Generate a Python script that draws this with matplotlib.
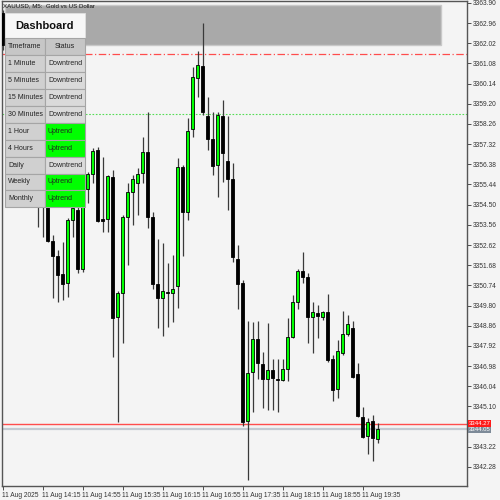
import matplotlib
matplotlib.use("Agg")
import matplotlib.pyplot as plt
from matplotlib.patches import Rectangle
import matplotlib.transforms as mtransforms

# ---------------- data ----------------
symbol_title = "XAUUSD, M5:  Gold vs US Dollar"

opens = [3363.43, 3361.94, 3359.94, 3360.50, 3358.45, 3356.96, 3357.70, 3355.75, 3354.72, 3354.95,
         3352.82, 3352.12, 3351.27, 3350.84, 3353.79, 3354.25, 3351.49, 3355.22, 3355.93, 3357.05,
         3353.82, 3353.82, 3355.78, 3349.25, 3350.37, 3353.94, 3355.11, 3355.50, 3355.99, 3356.94,
         3353.94, 3350.79, 3350.14, 3350.40, 3350.37, 3350.73, 3356.24, 3354.17, 3358.01, 3360.39,
         3360.98, 3358.63, 3357.55, 3356.35, 3358.63, 3356.55, 3355.69, 3351.96, 3350.84, 3344.44,
         3346.69, 3348.23, 3347.08, 3346.38, 3346.80, 3346.38, 3346.33, 3346.83, 3348.32, 3349.95,
         3351.43, 3351.15, 3349.25, 3349.47, 3349.25, 3349.49, 3347.30, 3345.90, 3347.60, 3348.48,
         3348.76, 3346.60, 3344.62, 3343.72, 3344.42, 3343.57]
highs = [3363.57, 3362.27, 3360.78, 3360.96, 3359.01, 3358.08, 3358.22, 3356.35, 3355.42, 3355.42,
         3353.09, 3352.39, 3352.78, 3353.88, 3354.72, 3354.49, 3355.42, 3356.03, 3357.14, 3357.19,
         3356.74, 3355.89, 3356.12, 3350.49, 3354.02, 3355.50, 3355.89, 3356.20, 3357.67, 3358.84,
         3354.16, 3352.89, 3352.73, 3351.77, 3352.16, 3356.66, 3356.35, 3358.53, 3360.93, 3361.66,
         3362.95, 3359.51, 3358.84, 3358.84, 3359.38, 3358.63, 3356.43, 3352.62, 3350.99, 3349.10,
         3349.05, 3349.10, 3347.65, 3349.00, 3347.30, 3347.30, 3347.30, 3349.21, 3350.29, 3351.49,
         3352.31, 3351.30, 3349.98, 3349.83, 3349.55, 3350.34, 3347.50, 3348.20, 3349.56, 3349.36,
         3349.08, 3347.11, 3345.09, 3344.55, 3344.70, 3344.31]
lows = [3361.71, 3359.61, 3359.15, 3358.08, 3356.58, 3356.49, 3355.42, 3353.48, 3353.01, 3352.76,
        3350.14, 3349.98, 3350.06, 3350.21, 3353.01, 3351.33, 3351.37, 3354.57, 3355.51, 3353.70,
        3353.24, 3353.24, 3347.42, 3344.36, 3348.04, 3351.69, 3353.56, 3354.02, 3355.50, 3353.40,
        3350.56, 3348.74, 3348.38, 3348.79, 3349.02, 3349.67, 3352.11, 3353.79, 3357.67, 3359.53,
        3358.68, 3357.05, 3355.89, 3354.87, 3355.57, 3354.25, 3351.85, 3349.63, 3344.19, 3341.67,
        3344.86, 3346.37, 3345.04, 3344.93, 3344.93, 3344.86, 3346.30, 3346.30, 3348.29, 3349.66,
        3350.84, 3348.04, 3347.58, 3348.28, 3349.13, 3347.18, 3345.37, 3345.48, 3347.50, 3348.38,
        3346.43, 3344.62, 3343.62, 3342.88, 3342.57, 3343.38]
closes = [3361.94, 3359.94, 3360.50, 3358.45, 3356.96, 3357.70, 3355.75, 3354.72, 3354.95, 3352.82,
          3352.12, 3351.23, 3350.81, 3353.79, 3354.33, 3351.49, 3355.19, 3355.93, 3357.02, 3353.76,
          3353.74, 3355.84, 3349.21, 3350.37, 3353.94, 3355.11, 3355.69, 3355.93, 3356.94, 3353.91,
          3350.81, 3350.14, 3350.48, 3350.37, 3350.56, 3356.27, 3354.17, 3357.94, 3360.44, 3361.01,
          3358.82, 3357.55, 3356.30, 3358.68, 3356.90, 3355.69, 3352.08, 3350.79, 3344.39, 3346.64,
          3348.24, 3347.11, 3346.37, 3346.80, 3346.41, 3346.32, 3346.85, 3348.32, 3349.95, 3351.43,
          3351.12, 3349.25, 3349.49, 3349.31, 3349.49, 3347.26, 3345.87, 3347.68, 3348.48, 3348.94,
          3346.49, 3344.65, 3343.69, 3344.39, 3343.62, 3344.05]

ytick_values = [3363.90, 3362.96, 3362.02, 3361.08, 3360.14, 3359.20, 3358.26, 3357.32, 3356.38,
                3355.44, 3354.50, 3353.56, 3352.62, 3351.68, 3350.74, 3349.80, 3348.86, 3347.92,
                3346.98, 3346.04, 3345.10, 3344.16, 3343.22, 3342.28]
ytick_labels = ["3363.90", "3362.96", "3362.02", "3361.08", "3360.14", "3359.20", "3358.26",
                "3357.32", "3356.38", "3355.44", "3354.50", "3353.56", "3352.62", "3351.68",
                "3350.74", "3349.80", "3348.86", "3347.92", "3346.98", "3346.04", "3345.10",
                "", "3343.22", "3342.28"]
xtick_positions = [0, 8, 16, 24, 32, 40, 48, 56, 64, 72]
xtick_labels = ["11 Aug 2025", "11 Aug 14:15", "11 Aug 14:55", "11 Aug 15:35", "11 Aug 16:15",
                "11 Aug 16:55", "11 Aug 17:35", "11 Aug 18:15", "11 Aug 18:55", "11 Aug 19:35"]

level_red_dash = 3361.52
level_green_dot = 3358.71
ask_price = 3344.27
bid_price = 3344.05
ask_label = "3344.27"
bid_label = "3344.05"

timeframes = ["1 Minute", "5 Minutes", "15 Minutes", "30 Minutes", "1 Hour", "4 Hours",
              "Daily", "Weekly", "Monthly"]
statuses = ["Downtrend", "Downtrend", "Downtrend", "Downtrend", "Uptrend", "Uptrend",
            "Downtrend", "Uptrend", "Uptrend"]

# ---------------- figure ----------------
BG = "#F4F4F4"
FONT = ["Liberation Sans", "DejaVu Sans"]
fig = plt.figure(figsize=(5, 5), dpi=100, facecolor=BG)
ax = fig.add_axes([0.004, 0.028, 0.93, 0.97])
ax.set_facecolor(BG)

ax.set_xlim(-0.1, 92.9)
ax.set_ylim(3341.39, 3363.99)

# gray header band (behind candles)
ax.add_patch(Rectangle((0.0065, 0.9093), 0.9376, 0.0825, transform=ax.transAxes,
                       facecolor="#A9A9A9", edgecolor="#C8C8C8", linewidth=1.0, zorder=0.5))

# horizontal levels
ax.axhline(level_red_dash, color="#FF4D4D", linestyle=(0, (6, 2, 1, 2)), linewidth=0.9, zorder=1)
ax.axhline(level_green_dot, color="#55DD55", linestyle=(0, (1.5, 1.5)), linewidth=0.8, zorder=1)
ax.axhline(bid_price, color="#C3CAD2", linewidth=1.6, zorder=1)
ax.axhline(ask_price, color="#FF4D4D", linewidth=1.0, zorder=1)

# candles
xs = list(range(len(opens)))
ax.vlines(xs, lows, highs, color="#3A3A3A", linewidth=0.9, zorder=2)
for x, o, c in zip(xs, opens, closes):
    bottom = min(o, c)
    h = max(abs(c - o), 0.04)
    fc = "#00FF00" if c >= o else "#000000"
    ax.bar(x, h, bottom=bottom, width=0.62, color=fc, edgecolor="#000000",
           linewidth=0.6, zorder=3)

# axes styling
for s in ax.spines.values():
    s.set_color("#555555")
    s.set_linewidth(1.0)

ax.yaxis.tick_right()
ax.set_yticks(ytick_values)
ax.set_yticklabels(ytick_labels)
ax.tick_params(axis="y", direction="out", length=3, width=0.6, pad=1,
               labelsize=4.8, colors="#333333", labelcolor="#333333")
ax.set_xticks(xtick_positions)
ax.set_xticklabels(xtick_labels)
ax.tick_params(axis="x", direction="out", length=3, width=0.6, pad=1.5,
               labelsize=4.8, colors="#333333", labelcolor="#333333")
for lbl in ax.get_xticklabels():
    lbl.set_ha("left")
for lbl in ax.get_xticklabels() + ax.get_yticklabels():
    lbl.set_family(FONT)

# price labels on the right scale
trans = mtransforms.blended_transform_factory(ax.transAxes, ax.transData)
ax.text(1.003, ask_price + 0.03, ask_label, transform=trans, ha="left", va="center", fontsize=4.3,
        color="white", family=FONT, zorder=10, clip_on=False,
        bbox=dict(boxstyle="square,pad=0.12", facecolor="#FF1A1A", edgecolor="none"))
ax.text(1.003, bid_price - 0.04, bid_label, transform=trans, ha="left", va="center", fontsize=4.3,
        color="white", family=FONT, zorder=11, clip_on=False,
        bbox=dict(boxstyle="square,pad=0.12", facecolor="#7D8A98", edgecolor="none"))

# title
fig.text(3 / 500, 1 - 5.7 / 500, symbol_title, ha="left", va="center", fontsize=4.4,
         color="#111111", family=FONT)


# ---------------- dashboard (figure overlay, pixel coordinates) ----------------
def px_rect(x0, y0, x1, y1, fc, ec, lw=0.8, z=5):
    r = Rectangle((x0 / 500, 1 - y1 / 500), (x1 - x0) / 500, (y1 - y0) / 500,
                  transform=fig.transFigure, facecolor=fc, edgecolor=ec, linewidth=lw, zorder=z)
    fig.add_artist(r)


def px_text(x, y, s, ha="left", size=5, weight="normal", color="#222222"):
    fig.text(x / 500, 1 - y / 500, s, ha=ha, va="center", fontsize=size, fontweight=weight,
             color=color, family=FONT, zorder=7)


px_rect(5, 13.3, 85, 38.3, "#F7F7F7", "#E0E0E0", lw=0.6)
px_text(45, 26, "Dashboard", ha="center", size=8, weight="bold", color="#111111")

row_h = 16.9
top = 38.3
col0, col1, col2 = 5, 45, 85
px_rect(col0, top, col1, top + row_h, "#C6C6C6", "#A5A5A5")
px_rect(col1, top, col2, top + row_h, "#C6C6C6", "#A5A5A5")
px_text((col0 + col1) / 2, top + row_h / 2, "Timeframe", ha="center")
px_text((col1 + col2) / 2, top + row_h / 2, "Status", ha="center")
for i, (tf, st) in enumerate(zip(timeframes, statuses)):
    y0 = top + row_h * (i + 1)
    y1 = y0 + row_h
    px_rect(col0, y0, col1, y1, "#D0D0D0", "#A5A5A5")
    sc = "#00FF00" if st == "Uptrend" else "#DADADA"
    px_rect(col1, y0, col2, y1, sc, "#A5A5A5")
    px_text(col0 + 3.3, (y0 + y1) / 2, tf)
    px_text(col1 + 3, (y0 + y1) / 2, st)

fig.savefig("out.png", dpi=100, facecolor=BG)
